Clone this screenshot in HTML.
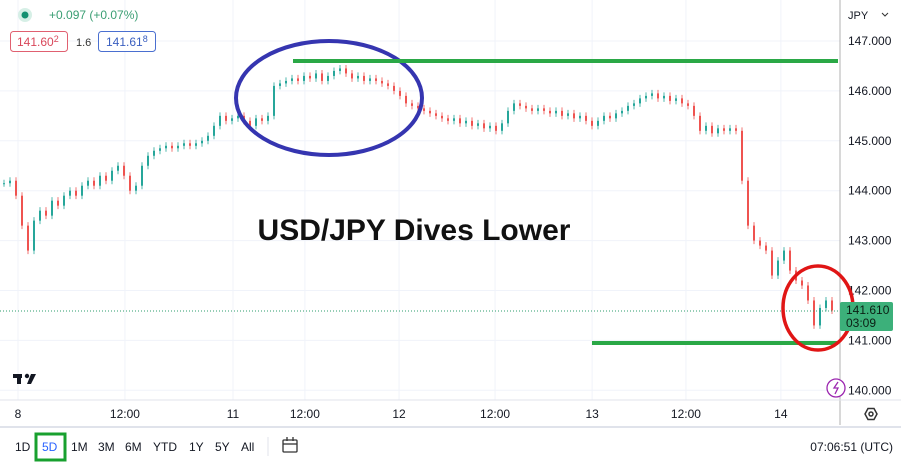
<!DOCTYPE html>
<html><head><meta charset="utf-8"><style>
body{margin:0;width:901px;height:465px;overflow:hidden;background:#fff;font-family:"Liberation Sans",sans-serif;}
svg{display:block}
</style></head><body>
<svg id="chart" width="901" height="465">
<g id="grid"></g>
<g id="candles"></g>
<line x1="0" y1="311" x2="840" y2="311" stroke="#2e9e6e" stroke-dasharray="1,2"/>
<line x1="840" y1="0" x2="840" y2="425" stroke="#b0b0b0"/>
<line x1="0" y1="400" x2="901" y2="400" stroke="#e0e3eb"/>
<line x1="0" y1="427" x2="901" y2="427" stroke="#e0e3eb" stroke-width="2"/>
<g id="yticks" font-size="12" fill="#131722"></g>
<g id="xticks" font-size="12" fill="#131722"></g>
<ellipse cx="329" cy="98" rx="93" ry="57" fill="none" stroke="#3535b0" stroke-width="4"/>
<line x1="293" y1="61" x2="838" y2="61" stroke="#2aa846" stroke-width="4"/>
<line x1="592" y1="343" x2="838" y2="343" stroke="#2aa846" stroke-width="4"/>
<ellipse cx="818" cy="308" rx="35" ry="42" fill="none" stroke="#e01515" stroke-width="3.5"/>
<text x="414" y="240" text-anchor="middle" font-size="30" font-weight="bold" fill="#111">USD/JPY Dives Lower</text>
<circle cx="25" cy="15" r="7" fill="#d6efe6"/>
<circle cx="25" cy="15" r="3.5" fill="#139070"/>
<text x="49" y="19" font-size="12" fill="#3a9e73">+0.097 (+0.07%)</text>
<rect x="10.5" y="31.5" width="57" height="20" rx="3" fill="#fff" stroke="#e06070"/>
<text x="17" y="46" font-size="12" fill="#d9475a">141.60<tspan font-size="9" dy="-4">2</tspan></text>
<text x="76" y="46" font-size="11" fill="#333">1.6</text>
<rect x="98.5" y="31.5" width="57" height="20" rx="3" fill="#fff" stroke="#4a6fd0"/>
<text x="106" y="46" font-size="12" fill="#3a5fc0">141.61<tspan font-size="9" dy="-4">8</tspan></text>
<text x="848" y="19" font-size="11" fill="#131722">JPY</text>
<path d="M882 13 l3 3 l3 -3" fill="none" stroke="#333"/>
<rect x="840" y="302" width="53" height="29" fill="#3cb07a" rx="2"/>
<text x="846" y="314" font-size="12" fill="#0b1f14">141.610</text>
<text x="846" y="327" font-size="12" fill="#0b1f14">03:09</text>
<circle cx="836" cy="388" r="9" fill="#fff" stroke="#9c27b0" stroke-width="1.3"/>
<path d="M838 382 l-4 6 h4 l-3 6" fill="none" stroke="#9c27b0" stroke-width="1.3"/>
<g fill="#131722"><rect x="13" y="374" width="9" height="4"/><rect x="17" y="374" width="4" height="10"/><circle cx="27" cy="376" r="2.2"/><path d="M31 374 h5 l-5 10 h-4z"/></g>
<g><path d="M865 414 l3 -5.5 h6 l3 5.5 l-3 5.5 h-6z" fill="none" stroke="#333" stroke-width="1.5"/><circle cx="871" cy="414" r="2" fill="none" stroke="#333" stroke-width="1.5"/></g>
<g font-size="12" fill="#131722">
<text x="15" y="451">1D</text>
<rect x="36" y="434" width="29" height="26" fill="none" stroke="#18a02f" stroke-width="3"/>
<text x="42" y="451" fill="#2962ff">5D</text>
<text x="71" y="451">1M</text>
<text x="98" y="451">3M</text>
<text x="125" y="451">6M</text>
<text x="153" y="451">YTD</text>
<text x="189" y="451">1Y</text>
<text x="215" y="451">5Y</text>
<text x="241" y="451">All</text>
</g>
<line x1="268" y1="437" x2="268" y2="456" stroke="#e0e3eb"/>
<g fill="none" stroke="#333" stroke-width="1.3"><rect x="283" y="440" width="14" height="12" rx="1"/><line x1="283" y1="444" x2="297" y2="444"/><line x1="287" y1="437" x2="287" y2="441"/><line x1="293" y1="437" x2="293" y2="441"/></g>
<text x="893" y="451" text-anchor="end" font-size="12" fill="#131722">07:06:51 (UTC)</text>
</svg>
<script>
const priceTicks=[147,146,145,144,143,142,141,140];
const tickLabels=["147.000","146.000","145.000","144.000","143.000","142.000","141.000","140.000"];
const timeLabels=["8","12:00","11","12:00","12","12:00","13","12:00","14"];
const timeLabelPos=[0,2.93,5.89,7.86,10.44,13.07,15.73,18.3,20.9];
const closes=[144.15,144.2,143.9,143.3,142.8,143.4,143.6,143.5,143.8,143.7,143.9,144.0,143.9,144.1,144.2,144.1,144.3,144.2,144.4,144.5,144.3,144.0,144.1,144.5,144.7,144.8,144.85,144.9,144.85,144.9,144.95,144.9,144.95,145.0,145.1,145.3,145.5,145.4,145.45,145.5,145.4,145.3,145.45,145.4,145.5,146.1,146.15,146.2,146.25,146.2,146.3,146.25,146.35,146.2,146.3,146.4,146.45,146.35,146.25,146.3,146.2,146.25,146.2,146.15,146.1,146.0,145.9,145.75,145.7,145.65,145.6,145.55,145.5,145.45,145.4,145.45,145.35,145.4,145.3,145.35,145.25,145.3,145.2,145.35,145.6,145.75,145.7,145.65,145.6,145.65,145.6,145.55,145.6,145.5,145.55,145.45,145.5,145.4,145.3,145.4,145.5,145.45,145.55,145.6,145.7,145.75,145.85,145.9,145.95,145.85,145.9,145.8,145.85,145.75,145.7,145.5,145.2,145.3,145.15,145.25,145.2,145.25,145.2,144.2,143.3,143.0,142.9,142.8,142.3,142.6,142.8,142.4,142.2,142.1,141.8,141.3,141.65,141.8,141.6];
const NS="http://www.w3.org/2000/svg";
const yS=p=>41+(147-p)*49.9;
const xS=i=>4+i*6;
const xT=u=>18+u*36.5;
const grid=document.getElementById('grid'),yt=document.getElementById('yticks'),xt=document.getElementById('xticks'),cg=document.getElementById('candles');
priceTicks.forEach((p,k)=>{
 const l=document.createElementNS(NS,'line');l.setAttribute('x1',0);l.setAttribute('x2',840);l.setAttribute('y1',yS(p));l.setAttribute('y2',yS(p));l.setAttribute('stroke','#f0f3fa');
 
 
 grid.appendChild(l);
 const t=document.createElementNS(NS,'text');t.setAttribute('x',848);t.setAttribute('y',yS(p)+4);t.textContent=tickLabels[k];
 
 
 yt.appendChild(t);
});
timeLabels.forEach((s,k)=>{
 const x=xT(timeLabelPos[k]);
 const l=document.createElementNS(NS,'line');l.setAttribute('x1',x);l.setAttribute('x2',x);l.setAttribute('y1',0);l.setAttribute('y2',400);l.setAttribute('stroke','#f0f3fa');
 
 
 grid.appendChild(l);
 const t=document.createElementNS(NS,'text');t.setAttribute('x',x);t.setAttribute('y',418);t.setAttribute('text-anchor','middle');t.textContent=s;
 
 
 xt.appendChild(t);
});
closes.forEach((c,i)=>{
 const o=i?closes[i-1]:c;const up=c>=o;const col=up?'#26a69a':'#ef5350';
 const hi=Math.max(o,c)+0.07,lo=Math.min(o,c)-0.07;const x=xS(i);
 const w=document.createElementNS(NS,'line');w.setAttribute('x1',x);w.setAttribute('x2',x);w.setAttribute('y1',yS(hi));w.setAttribute('y2',yS(lo));w.setAttribute('stroke',col);w.setAttribute('stroke-width',0.8);
 
 
 cg.appendChild(w);
 const r=document.createElementNS(NS,'rect');r.setAttribute('x',x-1);r.setAttribute('width',2);const y1=yS(Math.max(o,c)),y2=yS(Math.min(o,c));r.setAttribute('y',y1);r.setAttribute('height',Math.max(1,y2-y1));r.setAttribute('fill',col);
 
 
 cg.appendChild(r);
});
</script>
</body></html>
